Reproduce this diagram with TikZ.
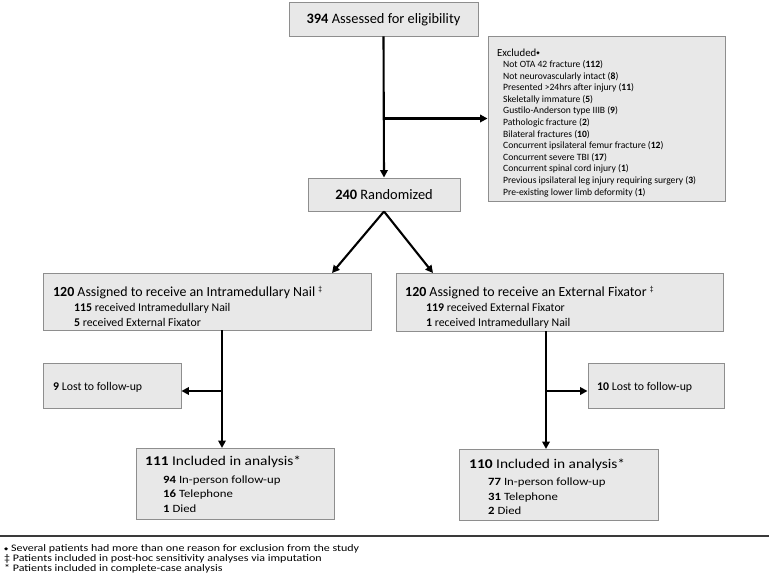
\documentclass[tikz,border=0pt]{standalone}
\usepackage{fontspec}
\setmainfont{Carlito}
\newfontfamily\symfont{DejaVu Sans}
\usetikzlibrary{arrows.meta}
\definecolor{boxfill}{HTML}{E8E8E8}
\definecolor{boxline}{HTML}{8E8E8E}
\definecolor{rulecol}{HTML}{3A3A3A}
\newcommand{\fsz}[1]{\fontsize{#1}{#1}\selectfont}
\newcommand{\mydmd}{{\symfont\fontsize{4.5}{5}\selectfont ◆}}
\newcommand{\myddag}{\raisebox{4.5pt}{\fsz{7.5}‡}}
\newcommand{\wide}[2]{\scalebox{#1}[1]{#2}}
\begin{document}
\begin{tikzpicture}[x=1pt,y=-1pt,
  box/.style={draw=boxline, fill=boxfill, line width=0.9pt, inner sep=0pt, rectangle},
  arr/.style={-{Triangle[length=7.5pt,width=7.5pt]}, line width=2.1pt},
  txt/.style={anchor=base west, inner sep=0pt},
  title/.style={txt, font=\fsz{13.9}},
  sub/.style={txt, font=\fsz{11.8}},
  ititle/.style={txt, font=\fsz{13.4}},
  isub/.style={txt, font=\fsz{11.1}},
  exl/.style={txt, font=\fsz{9.6}},
  foot/.style={txt, font=\fsz{10}}]
\useasboundingbox (0,0) rectangle (769,583);
% boxes
\node[box, minimum width=189pt, minimum height=34pt] (assess) at (383.5,19) {};
\node[box, minimum width=237pt, minimum height=165pt] (excl) at (606.5,118.5) {};
\node[box, minimum width=152pt, minimum height=33pt] (rand) at (384,194.5) {};
\node[box, minimum width=328pt, minimum height=57pt] (asgL) at (207,301.5) {};
\node[box, minimum width=327pt, minimum height=58pt] (asgR) at (559.5,302) {};
\node[box, minimum width=138pt, minimum height=45pt] (lostL) at (112,385.5) {};
\node[box, minimum width=136pt, minimum height=45pt] (lostR) at (656,385.5) {};
\node[box, minimum width=198pt, minimum height=71pt] (inclL) at (235,483.5) {};
\node[box, minimum width=199pt, minimum height=71pt] (inclR) at (558.5,484.5) {};
% texts
\node[anchor=base, inner sep=0pt, font=\fsz{14.4}] (tA) at (383.5,24) {\textbf{394} Assessed for eligibility};
\node[anchor=base, inner sep=0pt, font=\fsz{14.4}] (tR) at (384,200) {\textbf{240} Randomized};
\node[txt, font=\fsz{10.8}] (tEx) at (497,57) {Excluded\raisebox{2.5pt}{\mydmd}};
\foreach \t [count=\i from 0] in {
  Not OTA 42 fracture (\textbf{112}),
  Not neurovascularly intact (\textbf{8}),
  Presented >24hrs after injury (\textbf{11}),
  Skeletally immature (\textbf{5}),
  Gustilo-Anderson type IIIB (\textbf{9}),
  Pathologic fracture (\textbf{2}),
  Bilateral fractures (\textbf{10}),
  Concurrent ipsilateral femur fracture (\textbf{12}),
  Concurrent severe TBI (\textbf{17}),
  Concurrent spinal cord injury (\textbf{1}),
  Previous ipsilateral leg injury requiring surgery (\textbf{3}),
  Pre-existing lower limb deformity (\textbf{1})}
  \node[exl] (ex\i) at (503,{67.5+11.6*\i}) {\t};
\node[title] (tL1) at (53,296) {\textbf{120} Assigned to receive an Intramedullary Nail \myddag};
\node[sub] (tL2) at (74,311) {\textbf{115} received Intramedullary Nail};
\node[sub] (tL3) at (74,326) {\textbf{5} received External Fixator};
\node[title] (tR1) at (405,296) {\textbf{120} Assigned to receive an External Fixator \myddag};
\node[sub] (tR2) at (426,311) {\textbf{119} received External Fixator};
\node[sub] (tR3) at (426,326) {\textbf{1} received Intramedullary Nail};
\node[sub] (tLL) at (53,390) {\textbf{9} Lost to follow-up};
\node[sub] (tLR) at (597,390) {\textbf{10} Lost to follow-up};
\node[ititle] (iL1) at (145,465) {\wide{1.15}{\textbf{111} Included in analysis*}};
\node[isub] (iL2) at (163,483) {\wide{1.15}{\textbf{94} In-person follow-up}};
\node[isub] (iL3) at (163,497.5) {\wide{1.15}{\textbf{16} Telephone}};
\node[isub] (iL4) at (163,512) {\wide{1.15}{\textbf{1} Died}};
\node[ititle] (iR1) at (469,468) {\wide{1.15}{\textbf{110} Included in analysis*}};
\node[isub] (iR2) at (488,485) {\wide{1.15}{\textbf{77} In-person follow-up}};
\node[isub] (iR3) at (488,500) {\wide{1.15}{\textbf{31} Telephone}};
\node[isub] (iR4) at (488,514) {\wide{1.15}{\textbf{2} Died}};
% connectors
\coordinate (bE) at (assess.south |- excl.west);
\draw[arr] (assess.south) -- (rand.north);
\draw[arr] (bE) -- (excl.west);
\coordinate (rL) at (332,273);
\coordinate (rR) at (433,273);
\draw[arr] (rand.south) -- (rL);
\draw[arr] (rand.south) -- (rR);
\coordinate (vL0) at (222,330);
\coordinate (vL1) at (222,448);
\coordinate (bL) at (222,391);
\draw[arr] (vL0) -- (vL1);
\draw[arr] (bL) -- (lostL.east |- bL);
\coordinate (vR0) at (546,331);
\coordinate (vR1) at (546,449);
\coordinate (bR) at (546,391);
\draw[arr] (vR0) -- (vR1);
\draw[arr] (bR) -- (lostR.west |- bR);
% rule and footnotes
\coordinate (r0) at (0,536);
\coordinate (r1) at (769,536);
\draw[rulecol, line width=1.5pt] (r0) -- (r1);
\node[foot] (f1) at (4,551.5) {\wide{1.2}{\raisebox{1pt}{\mydmd} Several patients had more than one reason for exclusion from the study}};
\node[foot] (f2) at (4,561.5) {\wide{1.2}{‡ Patients included in post-hoc sensitivity analyses via imputation}};
\node[foot] (f3) at (4,571.5) {\wide{1.2}{* Patients included in complete-case analysis}};
\end{tikzpicture}
\end{document}
